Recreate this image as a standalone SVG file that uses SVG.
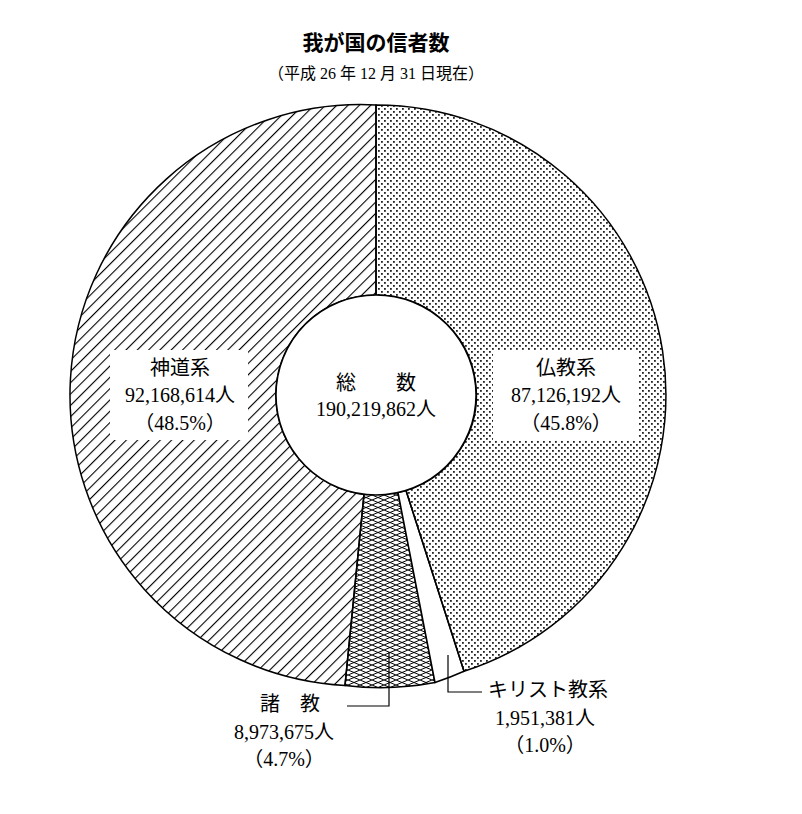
<svg xmlns="http://www.w3.org/2000/svg" width="802" height="814" viewBox="0 0 802 814">
<style>
text{font-family:"Liberation Serif","Noto Sans CJK JP",serif;font-size:20px;fill:#000;text-anchor:middle}
.s{stroke:#000;stroke-width:1.5}
</style>
<defs>
<pattern id="dots" width="6" height="6" patternUnits="userSpaceOnUse"><rect x="0" y="0" width="1.8" height="1.8" fill="#222"/><rect x="3" y="3" width="1.8" height="1.8" fill="#222"/></pattern>
<pattern id="hatch" width="8" height="8" patternUnits="userSpaceOnUse" patternTransform="rotate(45)"><line x1="0" y1="0" x2="0" y2="8" stroke="#000" stroke-width="2.2"/></pattern>
<pattern id="cross" width="12" height="5" patternUnits="userSpaceOnUse"><path d="M0,0L12,5M0,5L12,0" stroke="#000" stroke-width="1" fill="none"/></pattern>
</defs>
<rect width="802" height="814" fill="#fff"/>
<text x="376" y="50" style="font-size:21px;font-weight:bold">我が国の信者数</text>
<text x="376" y="79" style="font-size:16px">（平成 26 年 12 月 31 日現在）</text>
<g id="shinto"><path class="s" fill="url(#hatch)" d="M376,105 L376,295 A100,100 0 0 0 364,494.3 L345,685.4 A290,290 0 0 1 376,105 Z"/></g>
<g id="shokyo"><path class="s" fill="url(#cross)" d="M364,494.3 L398,492.5 L435,682.5 A290,290 0 0 1 345,685.4 Z"/></g>
<g id="christ"><path class="s" fill="#fff" d="M398,492.5 L406,490.5 L464,671.3 A290,290 0 0 1 435,682.5 Z"/></g>
<g id="bukkyo"><path class="s" fill="url(#dots)" d="M376,105 A290,290 0 0 1 464,671.3 L406,490.5 A100,100 0 0 0 376,295 Z"/></g>
<g id="center"><circle cx="376" cy="395" r="100" fill="#fff" stroke="#000" stroke-width="1.5"/>
<text x="376" y="390">総　　数</text><text x="376" y="416">190,219,862人</text></g>
<g id="shinto-label"><rect x="110" y="350" width="138" height="90" fill="#fff"/>
<text x="180" y="375">神道系</text><text x="180" y="402">92,168,614人</text><text x="180" y="430">（48.5%）</text></g>
<g id="bukkyo-label"><rect x="493" y="350" width="146" height="90" fill="#fff"/>
<text x="566" y="375">仏教系</text><text x="566" y="402">87,126,192人</text><text x="566" y="430">（45.8%）</text></g>
<g id="connectors" fill="none" stroke="#000" stroke-width="1.2">
<path d="M389,652 V706 H347"/>
<path d="M448,655 V692 H482"/>
</g>
<g id="shokyo-label"><text x="290" y="711">諸　教</text><text x="284" y="739">8,973,675人</text><text x="284" y="766">（4.7%）</text></g>
<g id="christ-label"><text x="548" y="697">キリスト教系</text><text x="545" y="725">1,951,381人</text><text x="545" y="752">（1.0%）</text></g>
</svg>
